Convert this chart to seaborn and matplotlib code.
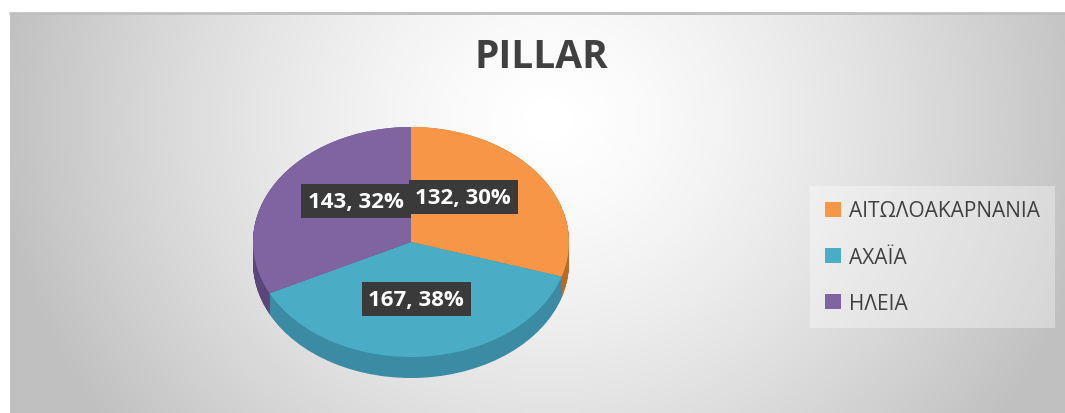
import numpy as np
import matplotlib
matplotlib.use('Agg')
import matplotlib.pyplot as plt
import seaborn as sns

sns.set_theme(style='white')
plt.rcParams['font.family'] = ['Open Sans', 'DejaVu Sans']

# data
regions = ['ΑΙΤΩΛΟΑΚΑΡΝΑΝΙΑ', 'ΑΧΑΪΑ', 'ΗΛΕΙΑ']
counts = [132, 167, 143]
title = 'PILLAR'

top_colors = ['#F79646', '#4BACC6', '#8064A2']
side_colors = ['#b8692c', '#3a8ba3', '#5b4679']

W, H = 1065, 414
fig = plt.figure(figsize=(W / 100, H / 100), dpi=100)
fig.patch.set_facecolor('white')

# chart area background with radial gradient
bg = fig.add_axes([10 / W, 0, (W - 10) / W, (H - 14) / H])
xx, yy = np.meshgrid(np.linspace(10, W, 400), np.linspace(14, H, 160))
t = np.sqrt(((xx - 550) / 560) ** 2 + ((yy - 120) / 520) ** 2)
shade = 1 - 0.25 * np.clip(t, 0, 1) ** 1.4
bg.imshow(shade, cmap='gray', vmin=0, vmax=1, aspect='auto', interpolation='bicubic')
bg.set_axis_off()
fig.add_artist(plt.Line2D([10 / W, 1], [1 - 14 / H] * 2, color='#bfbfbf', lw=2))

# pie axes spanning the figure; pie center at pixel (411, 243)
cx, cy, rx, ry = 411, 243, 158, 115
ax = fig.add_axes([0, 0, 1, 1])
depth = 21 / ry
n_layers = 30
for d in np.linspace(depth, 0.0, n_layers):
    ax.pie(counts, colors=side_colors, startangle=90, counterclock=False,
           center=(0, -d), radius=1, wedgeprops=dict(linewidth=0))
wedges, _ = ax.pie(counts, colors=top_colors, startangle=90, counterclock=False,
                   center=(0, 0), radius=1, wedgeprops=dict(linewidth=0))
ax.set_aspect('auto')
ax.set_xlim(-cx / rx, (W - cx) / rx)
ax.set_ylim(-(H - cy) / ry, cy / ry)
ax.set_axis_off()

# data labels
total = sum(counts)
for w, c in zip(wedges, counts):
    mid = np.deg2rad((w.theta1 + w.theta2) / 2)
    lx = 0.41 * np.cos(mid)
    ly = 0.56 * np.sin(mid) + 0.06
    ax.text(lx, ly, f'{c}, {round(100 * c / total)}%', ha='center', va='center',
            fontsize=16, fontweight='bold', color='white',
            bbox=dict(boxstyle='square,pad=0.3', facecolor='#3a3a3a', edgecolor='none'))

# title
fig.text(541 / W, 1 - 58 / H, title, ha='center', va='center', fontsize=28,
         fontweight='bold', color='#404040')

# legend
leg = fig.legend(wedges, regions, loc='center left', bbox_to_anchor=(800 / W, 1 - 258 / H),
                 fontsize=15, frameon=True, handlelength=0.75, handleheight=0.75,
                 labelspacing=1.2, handletextpad=0.4, borderpad=0.7, fancybox=False)
leg.get_frame().set_facecolor('white')
leg.get_frame().set_alpha(0.35)
leg.get_frame().set_edgecolor('none')
for txt in leg.get_texts():
    txt.set_color('#404040')

fig.savefig('out.png', dpi=100)
